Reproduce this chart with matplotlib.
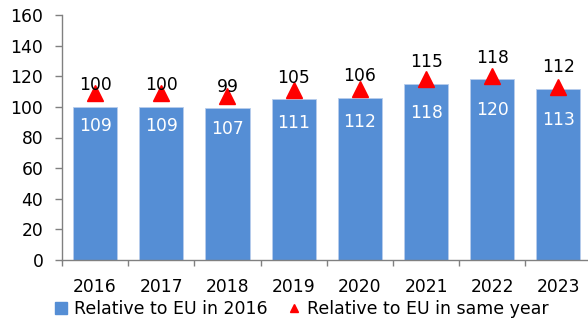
import matplotlib
matplotlib.use('Agg')
import matplotlib.pyplot as plt
from matplotlib.lines import Line2D
import numpy as np

years = ['2016', '2017', '2018', '2019', '2020', '2021', '2022', '2023']
rel_eu_2016 = [100, 100, 99, 105, 106, 115, 118, 112]
rel_eu_same_year = [109, 109, 107, 111, 112, 118, 120, 113]
y_ticks = [0, 20, 40, 60, 80, 100, 120, 140, 160]
legend_labels = ['Relative to EU in 2016', 'Relative to EU in same year']

BAR_COLOR = '#558ED5'
MARK_COLOR = '#FF0000'
AXIS_COLOR = '#808080'
FS = 12.3

plt.rcParams['font.family'] = ['DejaVu Sans']
fig = plt.figure(figsize=(5.88, 3.2), dpi=100)
ax = fig.add_axes([62 / 588, 60 / 320, 526 / 588, 245 / 320])

x = np.arange(len(years))
ax.bar(x, rel_eu_2016, width=0.665, color=BAR_COLOR, edgecolor='#b8cdec',
       linewidth=0.6, zorder=2)
ax.plot(x, rel_eu_same_year, linestyle='none', marker='^', ms=12,
        color=MARK_COLOR, zorder=3)

# bar values above the bars, marker values below the markers
for xi, v in zip(x, rel_eu_2016):
    ax.annotate(str(v), (xi, v), xytext=(0, 12), textcoords='offset points',
                ha='center', va='baseline', fontsize=FS, color='black', zorder=4)
for xi, v in zip(x, rel_eu_same_year):
    ax.annotate(str(v), (xi, v), xytext=(0, -27.6), textcoords='offset points',
                ha='center', va='baseline', fontsize=FS, color='white', zorder=4)

ax.set_xlim(-0.5, 7.446)
ax.set_ylim(0, 160)
ax.set_yticks(y_ticks)
ax.set_xticks(x, years)
ax.set_xticks(np.arange(-0.5, 7, 1), minor=True)
ax.tick_params(axis='x', which='major', length=0, pad=12.8, labelsize=FS)
ax.tick_params(axis='x', which='minor', length=4.3, width=1, color=AXIS_COLOR,
               direction='out')
ax.tick_params(axis='y', length=4.8, width=1, color=AXIS_COLOR, pad=8.7,
               labelsize=FS)
for side in ('top', 'right'):
    ax.spines[side].set_visible(False)
for side in ('left', 'bottom'):
    ax.spines[side].set_color(AXIS_COLOR)
    ax.spines[side].set_linewidth(1)

handles = [
    Line2D([], [], linestyle='none', marker='s', ms=8.6, color=BAR_COLOR),
    Line2D([], [], linestyle='none', marker='^', ms=6, color=MARK_COLOR),
]
fig.legend(handles, legend_labels, loc='center',
           bbox_to_anchor=(301.5 / 588, 11 / 320), ncol=2, frameon=False,
           fontsize=12.5, handlelength=0.8, handletextpad=0.35,
           columnspacing=1.15, borderpad=0, borderaxespad=0)

fig.savefig('out.png', dpi=100)
